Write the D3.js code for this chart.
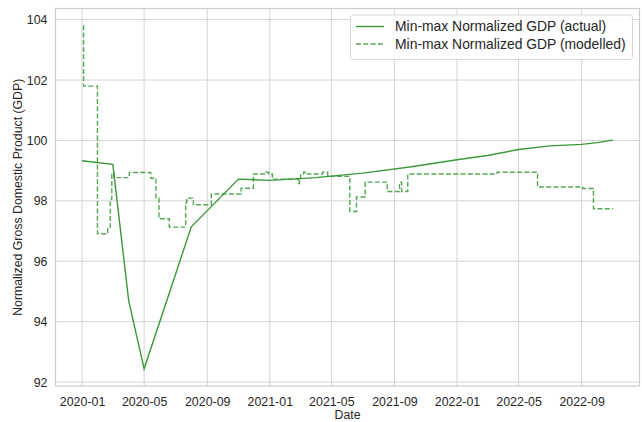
<!DOCTYPE html>
<html><head><meta charset="utf-8">
<script src="https://cdn.jsdelivr.net/npm/d3@7"></script>
<style>
body{margin:0;background:#fff;}
text{font-family:"Liberation Sans",Arial,sans-serif;fill:#262626;}
</style></head>
<body><svg id="c" width="642" height="422"></svg>
<script>
const actualDates = ["2020-01-01","2020-03-01","2020-04-01","2020-05-01","2020-08-01","2020-11-01","2021-01-01","2021-04-01","2021-07-01","2021-10-01","2022-01-01","2022-03-01","2022-05-01","2022-07-01","2022-09-01","2022-10-01","2022-11-01"];
const actualValues = [99.33,99.21,94.69,92.44,97.14,98.72,98.68,98.77,98.92,99.12,99.36,99.50,99.70,99.82,99.87,99.93,100.01];

const modelDates = ["2020-01-03","2020-01-04","2020-01-31","2020-02-20","2020-02-25","2020-02-28","2020-03-03","2020-04-02","2020-05-14","2020-05-24","2020-05-30","2020-06-19","2020-07-21","2020-07-23","2020-08-05","2020-09-09","2020-11-06","2020-11-30","2020-12-24","2020-12-30","2021-01-06","2021-02-26","2021-02-28","2021-03-02","2021-03-08","2021-03-11","2021-04-14","2021-04-24","2021-06-06","2021-06-19","2021-07-06","2021-08-18","2021-09-11","2021-09-15","2021-09-27","2022-03-20","2022-06-07","2022-09-03","2022-09-24","2022-11-01"];
const modelValues = [103.80,101.80,96.91,97.08,98.05,98.92,98.77,98.94,98.75,98.09,97.41,97.13,97.93,98.09,97.87,98.23,98.42,98.89,98.95,98.89,98.72,98.57,98.72,98.89,98.95,98.89,98.95,98.81,97.65,98.13,98.62,98.31,98.62,98.31,98.89,98.95,98.46,98.41,97.74,97.74];

const yTicks = [92,94,96,98,100,102,104];
const xTickDates = ["2020-01-01","2020-05-01","2020-09-01","2021-01-01","2021-05-01","2021-09-01","2022-01-01","2022-05-01","2022-09-01"];
const seriesNames = ["Min-max Normalized GDP (actual)","Min-max Normalized GDP (modelled)"];
const xLabel = "Date";
const yLabel = "Normalized Gross Domestic Product (GDP)";

const parse = d3.utcParse("%Y-%m-%d");
const fmt = d3.utcFormat("%Y-%m");
const actual = actualDates.map((d,i)=>({date:parse(d), value:actualValues[i]}));
const model = modelDates.map((d,i)=>({date:parse(d), value:modelValues[i]}));

const svg = d3.select("#c");
const L=55.5, R=639.5, T=8.5, B=386;
const allDates = actual.concat(model).map(d=>d.date);
const allVals = actual.concat(model).map(d=>d.value);
const [d0,d1] = d3.extent(allDates);
const [v0,v1] = d3.extent(allVals);
const dp = (d1-d0)*0.05, vp=(v1-v0)*0.05;
const x = d3.scaleUtc().domain([new Date(+d0-dp), new Date(+d1+dp)]).range([L,R]);
const y = d3.scaleLinear().domain([v0-vp, v1+vp]).range([B,T]);

const grid = "#d4d4d4";
svg.append("g").selectAll("line").data(xTickDates.map(parse)).join("line")
  .attr("x1",d=>x(d)).attr("x2",d=>x(d)).attr("y1",T).attr("y2",B)
  .attr("stroke",grid).attr("stroke-width",1);
svg.append("g").selectAll("line").data(yTicks).join("line")
  .attr("y1",d=>y(d)).attr("y2",d=>y(d)).attr("x1",L).attr("x2",R)
  .attr("stroke",grid).attr("stroke-width",1);
svg.append("rect").attr("x",L).attr("y",T).attr("width",R-L).attr("height",B-T)
  .attr("fill","none").attr("stroke","#cccccc").attr("stroke-width",1.2);

const xAxis = d3.axisBottom(x).tickValues(xTickDates.map(parse)).tickFormat(fmt).tickSize(0).tickPadding(11);
const gx = svg.append("g").attr("transform",`translate(0,${B})`).call(xAxis);
gx.select(".domain").remove();
gx.selectAll("text").style("font-size","12.4px").attr("fill","#262626");
const yAxis = d3.axisLeft(y).tickValues(yTicks).tickSize(0).tickPadding(8);
const gy = svg.append("g").attr("transform",`translate(${L},0)`).call(yAxis);
gy.select(".domain").remove();
gy.selectAll("text").style("font-size","12.4px").attr("fill","#262626");

svg.append("text").attr("x",(L+R)/2).attr("y",418.5).attr("text-anchor","middle")
  .style("font-size","12.3px").text(xLabel);
svg.append("text").attr("transform",`translate(22,${(T+B)/2}) rotate(-90)`).attr("text-anchor","middle")
  .style("font-size","12.3px").text(yLabel);

const col = "#3a983a";
const lineA = d3.line().x(d=>x(d.date)).y(d=>y(d.value));
const lineM = d3.line().x(d=>x(d.date)).y(d=>y(d.value)).curve(d3.curveStepAfter);
svg.append("path").datum(actual).attr("d",lineA).attr("fill","none").attr("stroke",col).attr("stroke-width",1.4);
svg.append("path").datum(model).attr("d",lineM).attr("fill","none").attr("stroke",col).attr("stroke-width",1.4)
  .attr("stroke-dasharray","5,2.3").attr("opacity",0.85);

const lg = svg.append("g");
lg.append("rect").attr("x",350.5).attr("y",15).attr("width",282).attr("height",44.5).attr("rx",3)
  .attr("fill","#fff").attr("fill-opacity",0.85).attr("stroke","#d6d6d6").attr("stroke-width",1);
seriesNames.forEach((n,i)=>{
  const yy = 26.5 + i*17.5;
  lg.append("line").attr("x1",356).attr("x2",384).attr("y1",yy).attr("y2",yy)
    .attr("stroke",col).attr("stroke-width",1.4)
    .attr("stroke-dasharray", i===1 ? "5,2.3" : null).attr("opacity", i===1?0.85:1);
  lg.append("text").attr("x",395).attr("y",yy+4.8).style("font-size","13.9px").text(n);
});
</script></body></html>
